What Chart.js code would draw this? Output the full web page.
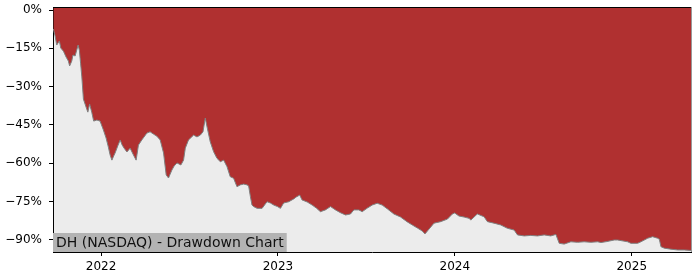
<!DOCTYPE html>
<html>
<head>
<meta charset="utf-8">
<script src="https://cdn.jsdelivr.net/npm/chart.js@4.4.1/dist/chart.umd.min.js"></script>
<style>
  html, body { margin: 0; padding: 0; background: #fff; }
  canvas { display: block; }
</style>
</head>
<body>
<canvas id="canvas" width="700" height="280"></canvas>
<script>
// time as decimal years, drawdown in percent
var years = [
    2021.730, 2021.740, 2021.749, 2021.764, 2021.772, 2021.787, 2021.802, 2021.815, 2021.822, 2021.834,
    2021.841, 2021.853, 2021.870, 2021.877, 2021.884, 2021.891, 2021.900, 2021.915, 2021.925, 2021.935,
    2021.947, 2021.958, 2021.976, 2021.994, 2022.013, 2022.028, 2022.041, 2022.051, 2022.061, 2022.071,
    2022.079, 2022.096, 2022.108, 2022.119, 2022.130, 2022.146, 2022.164, 2022.183, 2022.198, 2022.211,
    2022.230, 2022.259, 2022.277, 2022.296, 2022.315, 2022.334, 2022.353, 2022.368, 2022.381, 2022.400,
    2022.413, 2022.429, 2022.451, 2022.466, 2022.476, 2022.494, 2022.523, 2022.542, 2022.561, 2022.576,
    2022.589, 2022.599, 2022.617, 2022.636, 2022.655, 2022.674, 2022.693, 2022.712, 2022.730, 2022.749,
    2022.768, 2022.787, 2022.806, 2022.825, 2022.834, 2022.844, 2022.853, 2022.862, 2022.882, 2022.910,
    2022.938, 2022.957, 2022.976, 2022.997, 2023.014, 2023.032, 2023.061, 2023.089, 2023.104, 2023.123,
    2023.136, 2023.165, 2023.193, 2023.217, 2023.240, 2023.268, 2023.297, 2023.325, 2023.353, 2023.382,
    2023.410, 2023.429, 2023.457, 2023.476, 2023.505, 2023.533, 2023.561, 2023.589, 2023.618, 2023.655,
    2023.693, 2023.731, 2023.759, 2023.788, 2023.816, 2023.831, 2023.853, 2023.882, 2023.920, 2023.958,
    2023.986, 2023.999, 2024.023, 2024.052, 2024.080, 2024.090, 2024.127, 2024.165, 2024.184, 2024.221,
    2024.259, 2024.297, 2024.335, 2024.354, 2024.392, 2024.429, 2024.467, 2024.505, 2024.542, 2024.571,
    2024.590, 2024.618, 2024.656, 2024.694, 2024.731, 2024.769, 2024.807, 2024.826, 2024.860, 2024.901,
    2024.920, 2024.977, 2024.995, 2025.033, 2025.052, 2025.090, 2025.118, 2025.146, 2025.156, 2025.165,
    2025.184, 2025.222, 2025.260, 2025.297, 2025.335
];
var drawdown = [
    -7.4, -10.2, -13.7, -12.1, -14.9, -16.1, -18.4, -20.0, -21.9, -20.0,
    -17.6, -18.0, -13.7, -15.7, -20.8, -26.2, -34.9, -38.0, -40.0, -36.8,
    -40.0, -43.5, -43.1, -43.5, -47.0, -50.1, -53.7, -56.8, -58.8, -57.2,
    -56.0, -52.9, -50.9, -52.9, -54.1, -55.6, -54.1, -56.8, -58.8, -52.9,
    -50.9, -48.2, -47.7, -48.6, -49.4, -50.9, -56.0, -64.6, -65.8, -62.7,
    -61.1, -59.9, -60.7, -58.8, -54.1, -50.9, -49.0, -49.7, -49.0, -47.7,
    -42.3, -45.8, -51.6, -55.5, -58.1, -59.4, -58.8, -61.4, -65.3, -65.9,
    -69.2, -68.5, -68.2, -68.5, -68.9, -73.1, -76.4, -77.0, -77.7, -77.7,
    -75.1, -75.6, -76.4, -77.0, -77.7, -75.6, -75.1, -74.0, -73.2, -72.5,
    -74.4, -75.2, -76.4, -77.6, -79.0, -78.3, -77.0, -78.3, -79.4, -80.3,
    -79.9, -78.3, -78.3, -79.0, -77.6, -76.4, -75.7, -76.4, -77.9, -79.9,
    -81.1, -83.0, -84.2, -85.4, -86.6, -87.7, -85.9, -83.5, -82.9, -81.9,
    -79.9, -79.5, -80.7, -81.1, -81.6, -82.3, -79.9, -81.0, -82.9, -83.5,
    -84.2, -85.5, -86.2, -88.1, -88.5, -88.3, -88.5, -88.1, -88.5, -87.9,
    -91.4, -91.7, -90.8, -91.0, -90.8, -91.0, -90.8, -91.1, -90.7, -90.1,
    -90.1, -90.8, -91.4, -91.4, -90.8, -89.4, -88.8, -89.4, -89.8, -92.7,
    -93.3, -93.7, -94.0, -94.0, -94.2
];
var yTicks = [0, -15, -30, -45, -60, -75, -90];
var xTicks = [2022, 2023, 2024, 2025];
var chartLabel = 'DH (NASDAQ) - Drawdown Chart';

function buildPoints() {
    var pts = [];
    for (var i = 0; i < years.length; i++) {
        pts.push({ x: years[i], y: drawdown[i] });
    }
    return pts;
}

function fmtPct(v) {
    if (v < 0) return '\u2212' + Math.abs(v) + '%';
    return v + '%';
}

var framePlugin = {
    id: 'frame',
    beforeDraw: function (chart) {
        var a = chart.chartArea, ctx = chart.ctx;
        ctx.save();
        ctx.fillStyle = '#ececec';
        ctx.fillRect(a.left, a.top, a.right - a.left, a.bottom - a.top);
        ctx.restore();
    },
    afterDatasetsDraw: function (chart) {
        var a = chart.chartArea, ctx = chart.ctx;
        ctx.save();
        // label box bottom-left
        ctx.font = '14px "DejaVu Sans"';
        var w = ctx.measureText(chartLabel).width;
        ctx.fillStyle = '#b3b3b3';
        ctx.fillRect(a.left, a.bottom - 19, w + 6, 19);
        ctx.fillStyle = '#111';
        ctx.textBaseline = 'middle';
        ctx.fillText(chartLabel, a.left + 3, a.bottom - 9);
        // spines
        ctx.strokeStyle = '#000';
        ctx.lineWidth = 1;
        ctx.beginPath();
        ctx.moveTo(a.left, a.top + 0.5);
        ctx.lineTo(a.right, a.top + 0.5);
        ctx.stroke();
        ctx.strokeStyle = '#999';
        ctx.beginPath();
        ctx.moveTo(a.right + 0.5, a.top);
        ctx.lineTo(a.right + 0.5, a.bottom);
        ctx.stroke();
        ctx.restore();
    }
};

var ctx = document.getElementById('canvas').getContext('2d');
var myChart = new Chart(ctx, {
    type: 'line',
    data: {
        datasets: [{
            data: buildPoints(),
            borderColor: '#808080',
            borderWidth: 1,
            backgroundColor: '#b03030',
            fill: 'end',
            pointRadius: 0,
            tension: 0
        }]
    },
    options: {
        responsive: false,
        animation: false,
        layout: { padding: { top: 7, right: 9, left: 0, bottom: 0 } },
        plugins: { legend: { display: false }, tooltip: { enabled: false } },
        scales: {
            x: {
                type: 'linear',
                min: 2021.728,
                max: 2025.335,
                afterBuildTicks: function (axis) {
                    axis.ticks = xTicks.map(function (v) { return { value: v }; });
                },
                afterFit: function (axis) {
                    axis.height = 28;
                    axis.paddingLeft = 0;
                    axis.paddingRight = 0;
                },
                grid: { drawOnChartArea: false, drawTicks: true, tickLength: 4, color: '#000' },
                border: { display: true, color: '#000', width: 1 },
                ticks: {
                    color: '#000',
                    padding: 4,
                    maxRotation: 0,
                    font: { family: 'DejaVu Sans', size: 12 },
                    callback: function (v) { return String(v); }
                }
            },
            y: {
                min: -94.8,
                max: 1.2,
                afterBuildTicks: function (axis) {
                    axis.ticks = yTicks.map(function (v) { return { value: v }; });
                },
                afterFit: function (axis) {
                    axis.width = 53;
                    axis.paddingTop = 0;
                    axis.paddingBottom = 0;
                },
                grid: { drawOnChartArea: false, drawTicks: true, tickLength: 4, color: '#000' },
                border: { display: true, color: '#000', width: 1 },
                ticks: {
                    color: '#000',
                    padding: 7,
                    font: { family: 'DejaVu Sans', size: 12 },
                    callback: function (v) { return fmtPct(v); }
                }
            }
        }
    },
    plugins: [framePlugin]
});
</script>
</body>
</html>
